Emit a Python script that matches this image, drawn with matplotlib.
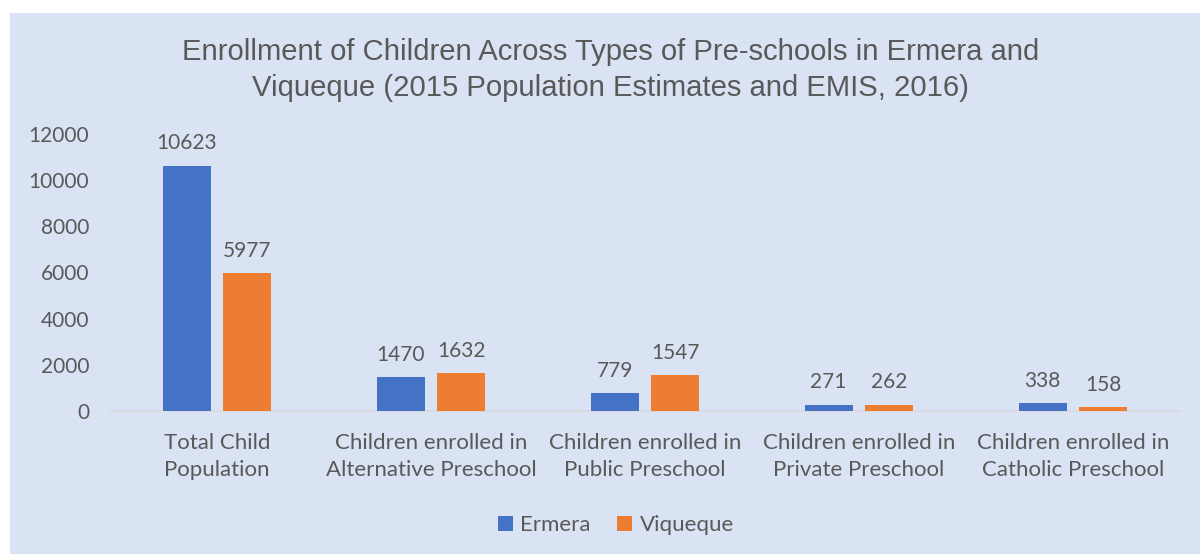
import numpy as np
import matplotlib.pyplot as plt
from matplotlib.patches import Rectangle

categories = ["Total Child\nPopulation",
              "Children enrolled in\nAlternative Preschool",
              "Children enrolled in\nPublic Preschool",
              "Children enrolled in\nPrivate Preschool",
              "Children enrolled in\nCatholic Preschool"]
ermera = [10623, 1470, 779, 271, 338]
viqueque = [5977, 1632, 1547, 262, 158]
series_names = ["Ermera", "Viqueque"]

bg = "#DAE3F3"
txt = "#595959"
blue = "#4472C4"
orange = "#ED7D31"

plt.rcParams['font.family'] = ['Lato', 'DejaVu Sans']

fig = plt.figure(figsize=(12, 5.54), dpi=100)
fig.patch.set_facecolor("white")
# chart area background (white margin top/left like the screenshot)
fig.add_artist(Rectangle((10 / 1200, 0), 1 - 10 / 1200, 1 - 13 / 554,
                         transform=fig.transFigure, facecolor=bg,
                         edgecolor="none", zorder=-10))

ax = fig.add_axes([110 / 1200, (554 - 411) / 554, 1070 / 1200, 277 / 554])
ax.set_facecolor("none")

x = np.arange(len(categories))
w = 0.224
off = 0.142
b1 = ax.bar(x - off, ermera, w, color=blue, label=series_names[0], zorder=3)
b2 = ax.bar(x + off, viqueque, w, color=orange, label=series_names[1], zorder=3)

for bars, vals in ((b1, ermera), (b2, viqueque)):
    for r, v in zip(bars, vals):
        ax.annotate(str(v), (r.get_x() + r.get_width() / 2, v),
                    xytext=(0, 9), textcoords="offset points",
                    ha="center", va="bottom", fontsize=15, color=txt)

ax.set_xlim(-0.5, len(categories) - 0.5)
ax.set_ylim(0, 12000)
ax.set_yticks(np.arange(0, 12001, 2000))
ax.set_xticks(x)
ax.set_xticklabels(categories, fontsize=16, color=txt, linespacing=1.42)
ax.tick_params(axis="y", length=0, labelsize=15, labelcolor=txt, pad=15)
ax.tick_params(axis="x", length=0, pad=16)
for s in ("top", "right", "left"):
    ax.spines[s].set_visible(False)
ax.spines["bottom"].set_color("#D9D9D9")
ax.spines["bottom"].set_linewidth(1.2)

fig.text(0.509, 1 - 70 / 554,
         "Enrollment of Children Across Types of Pre-schools in Ermera and\n"
         "Viqueque (2015 Population Estimates and EMIS, 2016)",
         ha="center", va="center", fontsize=21.1, color=txt,
         family=["Liberation Sans", "DejaVu Sans"], linespacing=1.4)

fig.legend(handles=[b1, b2], labels=series_names, loc="center",
           bbox_to_anchor=(616 / 1200, 1 - 525 / 554), ncol=2, frameon=False,
           fontsize=16, labelcolor=txt, handlelength=0.65, handleheight=0.65,
           handletextpad=0.35, columnspacing=1.2)

fig.savefig("out.png", dpi=100, facecolor=fig.get_facecolor())
